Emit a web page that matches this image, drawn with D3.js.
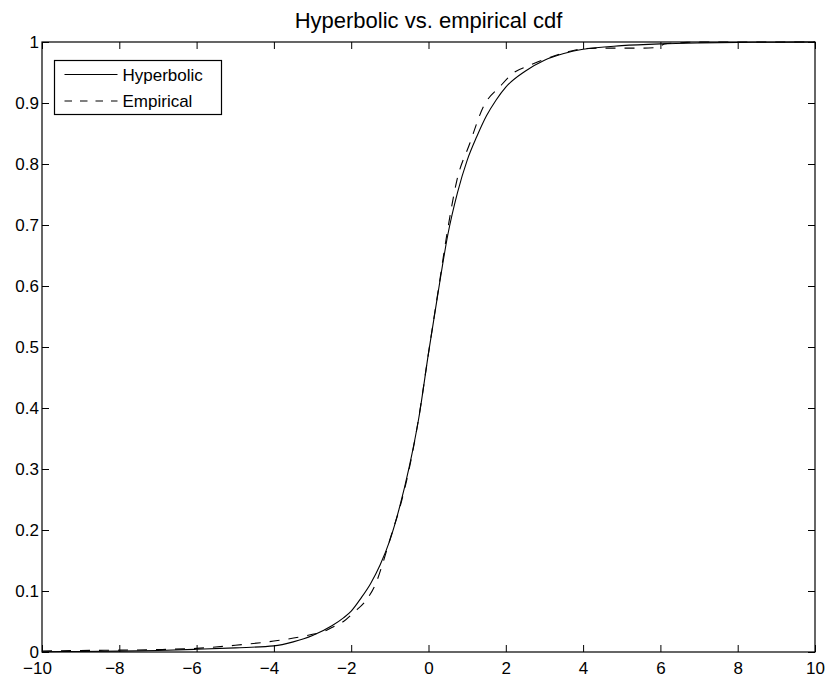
<!DOCTYPE html>
<html>
<head>
<meta charset="utf-8">
<script src="https://cdn.jsdelivr.net/npm/d3@7"></script>
<style>
  body { margin: 0; background: #fff; }
  text { font-family: "Liberation Sans", Arial, sans-serif; fill: #000; }
</style>
</head>
<body>
<div id="chart"></div>
<script>
// ---- data ----
const titleText = "Hyperbolic vs. empirical cdf";
const seriesNames = ["Hyperbolic", "Empirical"];

const hypX = [-10, -9, -8, -7, -6, -5, -4, -3.5, -3, -2.5, -2.2, -2, -1.75, -1.5, -1.25, -1, -0.75, -0.5, -0.25, 0,
              0.25, 0.5, 0.75, 1, 1.25, 1.5, 1.75, 2, 2.5, 3, 3.5, 4, 5, 6, 7, 8, 9, 10];
const hypY = [0.0005, 0.0009, 0.0014, 0.0025, 0.0044, 0.0068, 0.010, 0.0166, 0.027, 0.043, 0.056, 0.067, 0.088, 0.112, 0.143, 0.183, 0.237, 0.303, 0.384, 0.490,
              0.590, 0.684, 0.753, 0.806, 0.845, 0.879, 0.905, 0.926, 0.952, 0.970, 0.981, 0.988, 0.994, 0.997, 0.9985, 0.9993, 0.9997, 1.0];

const empX = [-10, -9, -8, -7, -6, -5, -4, -3.3, -3, -2.73, -2.5, -2.2, -1.95, -1.6, -1.34, -1.2, -1, -0.69, -0.5, -0.25, 0,
              0.25, 0.5, 0.73, 1.07, 1.42, 1.85, 2.19, 2.63, 3.06, 3.5, 4, 4.5, 5, 5.5, 5.95, 6.1, 6.6, 7, 8, 9, 10];
const empY = [0.0016, 0.0025, 0.003, 0.004, 0.006, 0.011, 0.018, 0.025, 0.029, 0.033, 0.040, 0.050, 0.064, 0.086, 0.116, 0.142, 0.184, 0.249, 0.300, 0.385, 0.490,
              0.592, 0.694, 0.772, 0.834, 0.894, 0.927, 0.949, 0.962, 0.973, 0.982, 0.989, 0.990, 0.990, 0.990, 0.991, 0.997, 0.999, 1.0, 1.0, 1.0, 1.0];

const xTicks = [-10, -8, -6, -4, -2, 0, 2, 4, 6, 8, 10];
const yTicks = [0, 0.1, 0.2, 0.3, 0.4, 0.5, 0.6, 0.7, 0.8, 0.9, 1];

// ---- layout ----
const width = 828;
const height = 679;
const margin = {top: 42, right: 13, bottom: 27, left: 42};
const innerWidth = width - margin.left - margin.right;
const innerHeight = height - margin.top - margin.bottom;

const svg = d3.select("#chart")
  .append("svg")
    .attr("width", width)
    .attr("height", height);

const innerChart = svg.append("g")
    .attr("transform", `translate(${margin.left}, ${margin.top})`);

const xScale = d3.scaleLinear().domain([-10, 10]).range([0, innerWidth]);
const yScale = d3.scaleLinear().domain([0, 1]).range([innerHeight, 0]);

const fmt = d => (d < 0 ? "\u2212" + Math.abs(d) : String(d));

// axes: ticks point inward, mirrored on top and right
const tickLen = 7;
const styleAxis = g => {
  g.select(".domain").remove();
  g.selectAll(".tick line").attr("stroke", "#000").attr("stroke-width", 1);
  g.selectAll("text").attr("font-size", 17);
};

const xAxisBottom = innerChart.append("g")
    .attr("transform", `translate(0, ${innerHeight})`)
    .call(d3.axisBottom(xScale).tickValues(xTicks).tickFormat(fmt).tickSizeInner(-tickLen).tickPadding(10))
    .call(styleAxis);

innerChart.append("g")
    .call(d3.axisTop(xScale).tickValues(xTicks).tickFormat("").tickSizeInner(-tickLen))
    .call(styleAxis);

innerChart.append("g")
    .call(d3.axisLeft(yScale).tickValues(yTicks).tickFormat(d3.format("")).tickSizeInner(-tickLen).tickPadding(3))
    .call(styleAxis);

innerChart.append("g")
    .attr("transform", `translate(${innerWidth}, 0)`)
    .call(d3.axisRight(yScale).tickValues(yTicks).tickFormat("").tickSizeInner(-tickLen))
    .call(styleAxis);

// minus sign hangs to the left of the digits (MATLAB style)
const probe = svg.append("text").attr("font-size", 17).text("\u2212");
const minusW = probe.node().getComputedTextLength();
probe.remove();
xAxisBottom.selectAll("g.tick text")
  .filter(d => d < 0)
  .attr("dx", -minusW / 2);

// plot frame
innerChart.append("rect")
    .attr("x", 0).attr("y", 0)
    .attr("width", innerWidth).attr("height", innerHeight)
    .attr("fill", "none")
    .attr("stroke", "#000")
    .attr("stroke-width", 1.2);

// curves
const line = d3.line()
    .x(d => xScale(d[0]))
    .y(d => yScale(d[1]))
    .curve(d3.curveMonotoneX);

innerChart.append("path")
    .datum(hypX.map((x, i) => [x, hypY[i]]))
    .attr("fill", "none")
    .attr("stroke", "#000")
    .attr("stroke-width", 1.1)
    .attr("d", line);

innerChart.append("path")
    .datum(empX.map((x, i) => [x, empY[i]]))
    .attr("fill", "none")
    .attr("stroke", "#000")
    .attr("stroke-width", 1.1)
    .attr("stroke-dasharray", "10,9")
    .attr("d", line);

// title
svg.append("text")
    .text(titleText)
    .attr("x", margin.left + innerWidth / 2)
    .attr("y", 28)
    .attr("text-anchor", "middle")
    .attr("font-size", 22);

// legend
const legend = svg.append("g").attr("transform", "translate(54.5, 60.5)");
legend.append("rect")
    .attr("width", 167).attr("height", 54)
    .attr("fill", "#fff")
    .attr("stroke", "#000")
    .attr("stroke-width", 1.2);

const dashes = [null, "7.5,8"];
seriesNames.forEach((name, i) => {
  const yy = 14 + i * 26.5;
  legend.append("line")
      .attr("x1", 10).attr("x2", 63)
      .attr("y1", yy).attr("y2", yy)
      .attr("stroke", "#000")
      .attr("stroke-width", 1.1)
      .attr("stroke-dasharray", dashes[i]);
  legend.append("text")
      .text(name)
      .attr("x", 68)
      .attr("y", yy + 6)
      .attr("font-size", 17);
});
</script>
</body>
</html>
